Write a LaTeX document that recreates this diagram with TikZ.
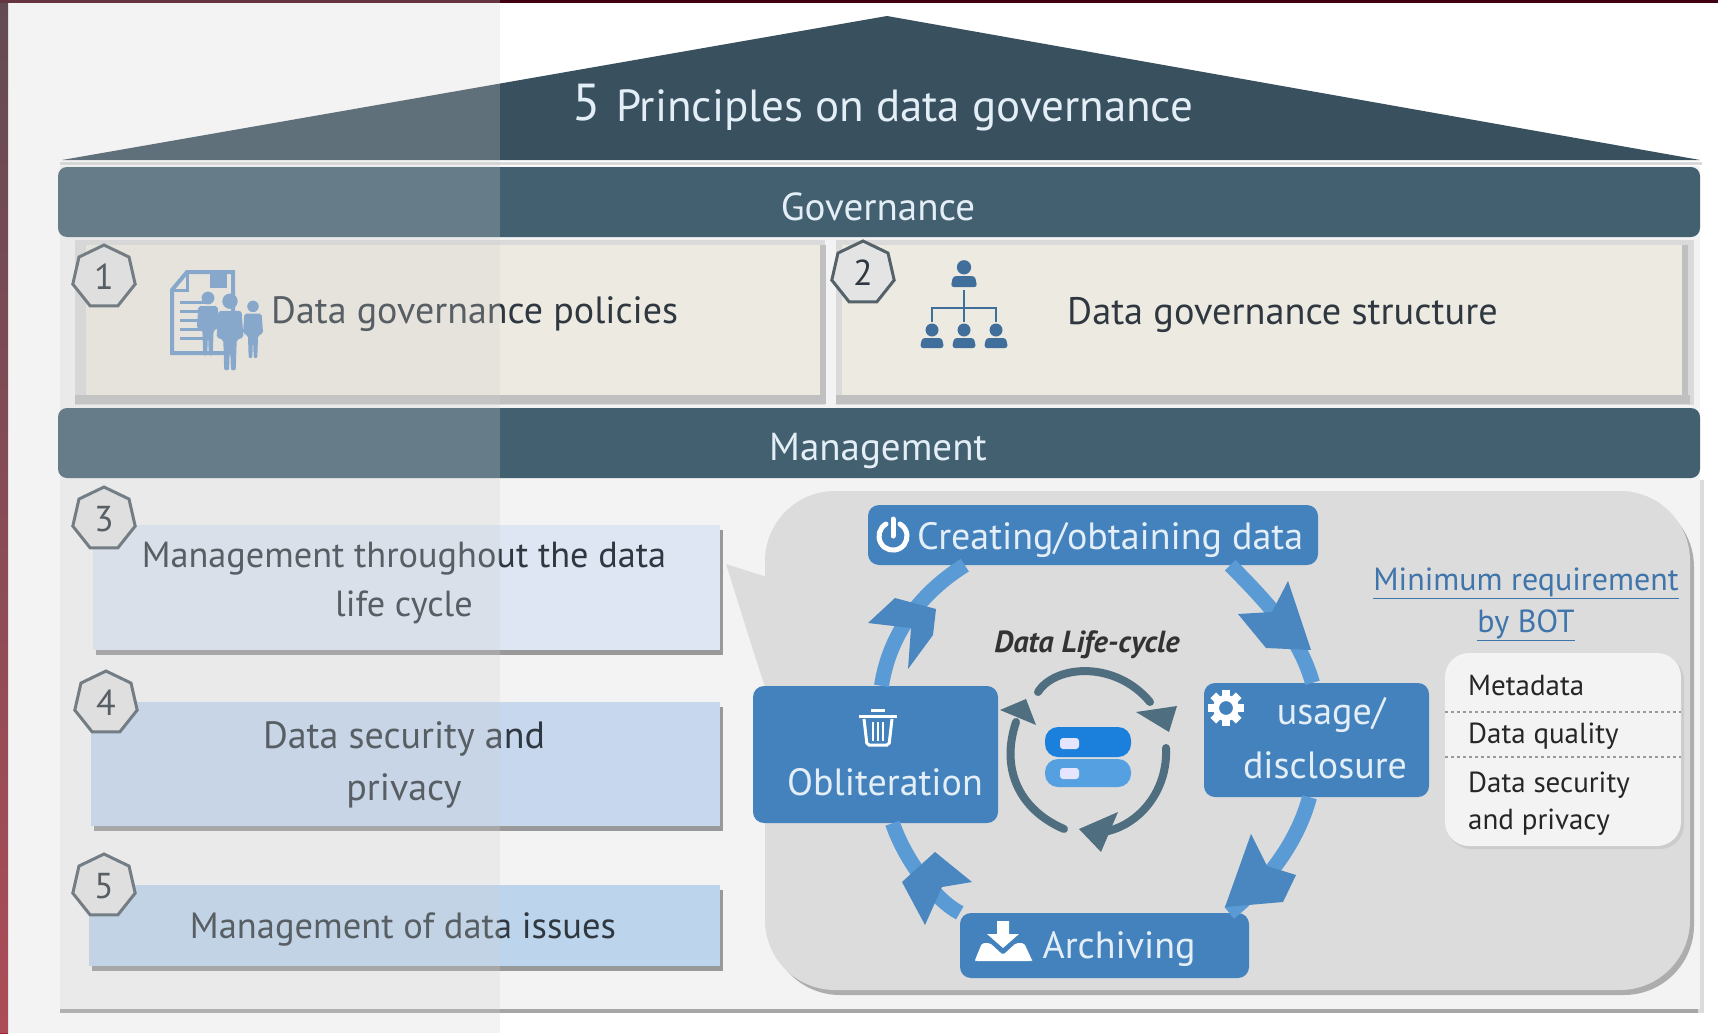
\documentclass[tikz,border=0pt]{standalone}
\usepackage{fontspec}
\setmainfont{PT Sans}
\usetikzlibrary{shapes.geometric,shadows,calc}
\definecolor{roofc}{HTML}{39505E}
\definecolor{barc}{HTML}{436070}
\definecolor{panelc}{HTML}{F3F3F3}
\definecolor{greyc}{HTML}{DCDCDC}
\definecolor{framec}{HTML}{DADADA}
\definecolor{frameb}{HTML}{C0C0C0}
\definecolor{beigec}{HTML}{EDEAE1}
\definecolor{stagec}{HTML}{4382BD}
\definecolor{ringc}{HTML}{5B9BD5}
\definecolor{headc}{HTML}{4A86C0}
\definecolor{innerc}{HTML}{4F6E80}
\definecolor{inkc}{HTML}{2F3840}
\definecolor{linkc}{HTML}{3F75AB}
\definecolor{lighttxt}{HTML}{E4EEF6}
\definecolor{iconc}{HTML}{6F9BC8}
\definecolor{orgc}{HTML}{3F6F9A}
\definecolor{boxcc}{HTML}{DDE6F2}
\definecolor{boxdc}{HTML}{C6D7EE}
\definecolor{boxec}{HTML}{BDD5EC}
\definecolor{edgetop}{HTML}{3F1F2A}
\definecolor{edgebot}{HTML}{A02030}
\definecolor{edgetopb}{HTML}{40000F}
\definecolor{badgeb}{HTML}{55626A}
\definecolor{badgef}{HTML}{E4E4E4}
\definecolor{dbac}{HTML}{1A80DC}
\definecolor{dbbc}{HTML}{55A0E0}
\tikzset{
  x=1pt,y=-1pt,
  bar/.style={fill=barc,rounded corners=9pt,minimum width=1642pt,minimum height=70pt,inner sep=0pt},
  bartext/.style={text=lighttxt,font=\fontsize{39}{44}\selectfont,inner sep=0pt},
  frame/.style={fill=framec,inner sep=0pt},
  policy/.style={fill=beigec,inner sep=0pt},
  body/.style={text=inkc,font=\fontsize{36.5}{50}\selectfont,align=center,inner sep=0pt},
  mgmt/.style={inner sep=0pt,drop shadow={shadow xshift=3pt,shadow yshift=-5pt,fill=black!55,opacity=.7}},
  badge/.style={regular polygon,regular polygon sides=7,minimum size=64pt,inner sep=0pt,fill=badgef,draw=badgeb,line width=3pt,text=inkc,font=\fontsize{36}{40}\selectfont},
  stage/.style={fill=stagec,rounded corners=11pt,inner sep=0pt},
  stext/.style={text=lighttxt,font=\fontsize{38}{42}\selectfont,inner sep=0pt},
  ring/.style={draw=ringc,line width=15pt},
  arrowhd/.style={fill=headc},
  inner/.style={draw=innerc,line width=8pt,line cap=round},
  innerhd/.style={fill=innerc},
  note/.style={text=black!85,font=\fontsize{29}{32}\selectfont,inner sep=0pt,anchor=base west},
  ico/.style={draw=white,line width=4pt}
}
\newcommand{\fig}[4]{% x, y, scale, colour
  \fill[#4] (#1,#2-30*#3) circle[radius=8*#3];
  \fill[#4,rounded corners=2pt] (#1-12*#3,#2-20*#3) -- (#1+12*#3,#2-20*#3) -- (#1+14*#3,#2+8*#3) -- (#1+7*#3,#2+10*#3) -- (#1+6*#3,#2+42*#3) -- (#1+1*#3,#2+42*#3) -- (#1,#2+14*#3) -- (#1-1*#3,#2+42*#3) -- (#1-6*#3,#2+42*#3) -- (#1-7*#3,#2+10*#3) -- (#1-14*#3,#2+8*#3) -- cycle;
}
\newcommand{\orgp}[3]{% x,y,scale
  \fill[orgc] (#1,#2-7*#3) circle[radius=6.5*#3];
  \fill[orgc,rounded corners=3pt] (#1-12*#3,#2+11*#3) -- (#1-10*#3,#2+1*#3) -- (#1+10*#3,#2+1*#3) -- (#1+12*#3,#2+11*#3) -- cycle;
}
\begin{document}
\begin{tikzpicture}
\useasboundingbox (0,0) rectangle (1718,1033);
\fill[white] (0,0) rectangle (1718,1033);
% page edges
\shade[top color=edgetop,bottom color=edgebot] (0,0) rectangle (8,1033);
\fill[edgetopb] (0,0) rectangle (1718,3);
% panel
\fill[black!35] (60,1004) rectangle (1704,1013);
\fill[black!14] (1698,480) rectangle (1704,1013);
\fill[panelc] (60,166) rectangle (1700,1009);
% roof
\fill[roofc] (887,16) -- (1700,160) -- (62,160) -- cycle;
\draw[black!15,line width=3pt] (60,163.5) -- (1702,163.5);
\node[text=lighttxt,font=\fontsize{52}{56}\selectfont,inner sep=0pt] (five) at (587,103) {5};
\node[text=lighttxt,font=\fontsize{45}{50}\selectfont,inner sep=0pt,anchor=west] (title) at (616,110) {Principles on data governance};
% frames
\node[frame,minimum width=750pt,minimum height=165pt] (frameA) at (450,322) {};
\node[frame,minimum width=858pt,minimum height=165pt] (frameB) at (1265,322) {};
\fill[panelc] (825,240) rectangle (836,404);
\node[policy,minimum width=735pt,minimum height=150pt] (policyA) at (453,320) {};
\node[policy,minimum width=840pt,minimum height=150pt] (policyB) at (1262,320) {};
\fill[frameb] (75,395) rectangle (825,404);
\fill[frameb] (836,395) rectangle (1690,404);
\fill[frameb] (820,245) rectangle (826,404);
\fill[frameb] (1682,245) rectangle (1688,404);
% bars
\node[bar] (gov) at (879,202) {};
\node[bartext] (govt) at (878,207) {Governance};
\node[bar] (man) at (879,443) {};
\node[bartext] (mant) at (878,451) {Management};
% policy icons
\draw[iconc,line width=4pt,fill=beigec] (172,290) -- (187,272) -- (233,272) -- (233,353) -- (172,353) -- cycle;
\draw[iconc,line width=3pt] (187,272) -- (187,290) -- (172,290);
\fill[iconc] (210,272) rectangle (227,288);
\foreach \yy in {302,311,320,329,338}{\draw[iconc,line width=3pt] (180,\yy) -- (206,\yy);}
\fig{208}{322}{0.8}{iconc}
\fig{253}{328}{0.72}{iconc}
\fig{230}{330}{0.96}{iconc}
\node[body,anchor=west,font=\fontsize{38}{44}\selectfont] (poltxt) at (271,314) {Data governance policies};
% org icon
\orgp{964}{275}{1.1}
\orgp{932}{337}{1}
\orgp{964}{337}{1}
\orgp{996}{337}{1}
\draw[orgc,line width=2.5pt] (964,290) -- (964,322) (932,322) -- (932,308) -- (996,308) -- (996,322);
\node[body,anchor=west,font=\fontsize{38.3}{44}\selectfont] (strtxt) at (1067,315) {Data governance structure};
% management boxes
\node[mgmt,fill=boxcc,minimum width=627pt,minimum height=125pt] (boxC) at (406,587) {};
\node[mgmt,fill=boxdc,minimum width=629pt,minimum height=124pt] (boxD) at (405,764) {};
\node[mgmt,fill=boxec,minimum width=631pt,minimum height=81pt] (boxE) at (404,925) {};
\node[body,font=\fontsize{36.3}{49}\selectfont] (txtC) at (404,583) {Management throughout the data\\life cycle};
\node[body,font=\fontsize{38}{52}\selectfont] (txtD) at (404,765) {Data security and\\privacy};
\node[body] (txtE) at (403,929) {Management of data issues};
% badges
\node[badge] (b1) at (104,277) {1};
\node[badge] (b2) at (863,273) {2};
\node[badge] (b3) at (104,519) {3};
\node[badge] (b4) at (106,703) {4};
\node[badge] (b5) at (104,886) {5};
% life-cycle panel
\fill[black!32,rounded corners=70pt] (770,497) rectangle (1694,995);
\fill[greyc,rounded corners=70pt] (765,491) rectangle (1690,990);
\fill[greyc] (726,564) -- (770,578) -- (770,700) .. controls (762,680) and (750,640) .. cycle;
% stages
\node[stage,minimum width=450pt,minimum height=60pt] (creating) at (1093,535) {};
\node[stage,minimum width=225pt,minimum height=114pt] (usage) at (1316.5,740) {};
\node[stage,minimum width=245pt,minimum height=137pt] (oblit) at (875.5,754.5) {};
\node[stage,minimum width=289pt,minimum height=65pt] (arch) at (1104.5,945.5) {};
\node[stext,anchor=west] (crt) at (917,540) {Creating/obtaining data};
\node[stext] (ust) at (1331,715) {usage/};
\node[stext] (dst) at (1325,765) {disclosure};
\node[stext] (obt) at (885,782) {Obliteration};
\node[stext] (art) at (1119,949) {Archiving};
% ring
\draw[ring] ([xshift=-88pt]creating.south east) .. controls (1275,610) and (1300,640) .. ([xshift=-4pt]usage.north);
\draw[ring] ([xshift=-7pt]usage.south) .. controls (1298,840) and (1270,880) .. ([xshift=-20pt]arch.north east);
\draw[ring] (arch.north west) .. controls (935,900) and (905,860) .. ([xshift=17pt]oblit.south);
\draw[ring] ([xshift=6pt]oblit.north) .. controls (890,630) and (925,590) .. ([xshift=97pt]creating.south west);
\fill[arrowhd] (1288,581) -- (1311,650) -- (1266,648) -- (1238,614) -- (1272,612) -- cycle;
\fill[arrowhd] (1251,834) -- (1267,866) -- (1296,875) -- (1283,902) -- (1225,907) -- cycle;
\fill[arrowhd] (935,852) -- (972,882) -- (942,887) -- (925,925) -- (902,882) -- cycle;
\fill[arrowhd] (895,598) -- (936,609) -- (933,635) -- (908,669) -- (911,628) -- (868,623) -- cycle;
% icons in stages
\draw[ico,line cap=round,line width=5pt] (886,524) arc[start angle=120,end angle=420,radius=14pt];
\draw[ico,line cap=round,line width=5pt] (893,519) -- (893,536);
\draw[white,line width=6pt] (1226,708) circle[radius=10pt];
\foreach \a in {0,45,...,315}{\fill[white,rotate around={\a:(1226,708)}] (1222,690) rectangle (1230,698);}
\draw[white,line width=3pt,rounded corners=2pt] (864,719) -- (867,745) -- (889,745) -- (892,719);
\draw[white,line width=3pt] (859,716) -- (897,716) (871,710) -- (885,710);
\foreach \xx in {873,878,883}{\draw[white,line width=2pt] (\xx,722) -- (\xx,741);}
\fill[white] (997,921) rectangle (1009,934) (987,934) -- (1019,934) -- (1003,948) -- cycle;
\fill[white,rounded corners=2pt] (975,960) -- (982,943) -- (990,943) -- (1003,955) -- (1016,943) -- (1024,943) -- (1032,960) -- (1032,961) -- (975,961) -- cycle;
% inner cycle
\node[text=black!80,font=\itshape\bfseries\fontsize{30.5}{34}\selectfont,inner sep=0pt] (lifet) at (1087,645) {Data Life-cycle};
\node[fill=dbac,rounded corners=13pt,minimum width=86pt,minimum height=30pt,inner sep=0pt] (dbA) at (1088,742) {};
\node[fill=dbbc,rounded corners=13pt,minimum width=86pt,minimum height=28pt,inner sep=0pt] (dbB) at (1088,773) {};
\fill[white!90!blue,rounded corners=3pt] (1060,738) rectangle (1079,749);
\fill[white!90!blue,rounded corners=3pt] (1060,768) rectangle (1079,779);
\draw[inner] (1038,692) .. controls (1055,665) and (1115,660) .. (1150,702);
\fill[innerhd] (1136,712) -- (1177,706) -- (1169,732) -- cycle;
\draw[inner] (1166,748) .. controls (1168,790) and (1140,825) .. (1104,832);
\fill[innerhd] (1118,812) -- (1101,852) -- (1079,829) -- cycle;
\draw[inner] (1064,829) .. controls (1020,810) and (1000,770) .. (1016,722);
\fill[innerhd] (1000,710) -- (1026,699) -- (1036,725) -- cycle;
% minimum requirement
\node[text=linkc,font=\fontsize{32}{36}\selectfont,inner sep=0pt] (minreq) at (1526,583) {\underline{Minimum requirement}};
\node[text=linkc,font=\fontsize{32}{36}\selectfont,inner sep=0pt] (bybot) at (1526,625) {\underline{by BOT}};
\fill[black!20,rounded corners=24pt] (1447,656) rectangle (1684,849);
\node[fill=panelc,rounded corners=24pt,minimum width=236pt,minimum height=193pt,inner sep=0pt] (notebox) at (1563,749.5) {};
\node[note] (n1) at (1468,695) {Metadata};
\node[note] (n2) at (1468,743) {Data quality};
\node[note] (n3) at (1468,792) {Data security};
\node[note] (n4) at (1468,829) {and privacy};
\draw[black!40,dashed,line width=2.5pt] (notebox.west |- 0,712) -- (notebox.east |- 0,712);
\draw[black!40,dashed,line width=2.5pt] (notebox.west |- 0,757) -- (notebox.east |- 0,757);
% translucent left band
\fill[black!18,opacity=.25] (0,0) rectangle (500,1033);
\end{tikzpicture}
\end{document}
